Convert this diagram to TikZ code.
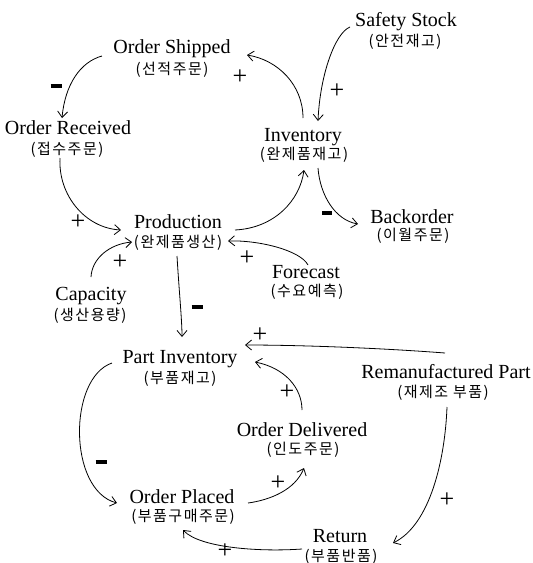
\documentclass[tikz,border=0pt]{standalone}
\usepackage{fontspec}
\setmainfont{Liberation Serif}
\newfontfamily\kr[LetterSpace=10]{Noto Sans CJK KR}
\usetikzlibrary{arrows.meta}
\begin{document}
\begin{tikzpicture}[x=1pt,y=-1pt,
  en/.style={anchor=base,inner sep=0pt,font=\fontsize{20}{22}\selectfont},
  ko/.style={anchor=base,inner sep=0pt,font=\kr\fontsize{15}{17}\selectfont},
  link/.style={line width=0.8pt,-{Straight Barb[length=6pt,width=10pt]}},
  plussign/.style={inner sep=0pt,font=\fontsize{26}{28}\selectfont},
  minussign/.style={inner sep=0pt}]
\useasboundingbox (0,0) rectangle (533,563);
% English + Korean labels
\node[en] (os) at (172,53) {Order Shipped};
\node[ko] (osk) at (172,74) {(선적주문)};
\node[en] (or) at (68,134) {Order Received};
\node[ko] (ork) at (67,154) {(접수주문)};
\node[en] (ss) at (406,26) {Safety Stock};
\node[ko] (ssk) at (405,46) {(안전재고)};
\node[en] (inv) at (303,141) {Inventory};
\node[ko] (invk) at (304,159) {(완제품재고)};
\node[en] (bo) at (412,223) {Backorder};
\node[ko] (bok) at (413,240) {(이월주문)};
\node[en] (prod) at (178,228) {Production};
\node[ko] (prodk) at (178,247) {(완제품생산)};
\node[en] (cap) at (91,300) {Capacity};
\node[ko] (capk) at (90,320) {(생산용량)};
\node[en] (fc) at (306,278) {Forecast};
\node[ko] (fck) at (307,296) {(수요예측)};
\node[en] (pi) at (180,363) {Part Inventory};
\node[ko] (pik) at (180,383) {(부품재고)};
\node[en] (rp) at (446,378) {Remanufactured Part};
\node[ko] (rpk) at (443,397) {(재제조 부품)};
\node[en] (od) at (302,436) {Order Delivered};
\node[ko] (odk) at (303,454) {(인도주문)};
\node[en] (op) at (182,503) {Order Placed};
\node[ko] (opk) at (183,521) {(부품구매주문)};
\node[en] (ret) at (340,542) {Return};
\node[ko] (retk) at (341,561) {(부품반품)};
% connectors
\draw[link] ([shift={(-70,3)}]os.base) .. controls (80,62) and (65,85) .. ([shift={(-6,-16)}]or.base);
\draw[link] ([shift={(0,-23)}]inv.base) .. controls (303,85) and (278,60) .. ([shift={(75,2)}]os.base);
\draw[link] ([shift={(-56,1)}]ss.base) .. controls (335,33) and (320,75) .. ([shift={(15,-20)}]inv.base);
\draw[link] ([shift={(14,9)}]invk.base) .. controls (320,195) and (335,220) .. ([shift={(-54,1)}]bo.base);
\draw[link] ([shift={(-7,4)}]ork.base) .. controls (58,195) and (85,228) .. ([shift={(-57,2)}]prod.base);
\draw[link] ([shift={(57,2)}]prod.base) .. controls (275,228) and (300,200) .. ([shift={(0,11)}]invk.base);
\draw[link] ([shift={(0,-23)}]cap.base) .. controls (92,258) and (110,244) .. ([shift={(-46,-5)}]prodk.base);
\draw[link] ([shift={(2,-13)}]fc.base) .. controls (300,250) and (258,240) .. ([shift={(50,-6)}]prodk.base);
\draw[link] ([shift={(-1,9)}]prodk.base) .. controls (179,290) and (182,320) .. ([shift={(2,-26)}]pi.base);
\draw[link] ([shift={(-1,-25)}]rp.base) .. controls (380,348) and (300,345) .. ([shift={(65,-18)}]pi.base);
\draw[link] ([shift={(0,-26)}]od.base) .. controls (302,388) and (285,368) .. ([shift={(75,-1)}]pi.base);
\draw[link] ([shift={(-68,0)}]pi.base) .. controls (68,378) and (68,490) .. ([shift={(-65,0)}]op.base);
\draw[link] ([shift={(66,0)}]op.base) .. controls (270,500) and (295,490) .. ([shift={(1,14)}]odk.base);
\draw[link] ([shift={(4,10)}]rpk.base) .. controls (445,460) and (430,525) .. ([shift={(53,1)}]ret.base);
\draw[link] ([shift={(-39,-12)}]retk.base) .. controls (260,552) and (200,548) .. ([shift={(0,9)}]opk.base);
% polarity signs
\node[minussign] (m1) at (56,86) {\rule{11pt}{3.5pt}};
\node[minussign] (m2) at (327,213) {\rule{10pt}{3.5pt}};
\node[minussign] (m3) at (197,307) {\rule{11pt}{3.5pt}};
\node[minussign] (m4) at (101,462) {\rule{11pt}{3.5pt}};
\node[plussign] (p1) at (240,77) {+};
\node[plussign] (p2) at (337,91) {+};
\node[plussign] (p3) at (78,222) {+};
\node[plussign] (p4) at (120,262) {+};
\node[plussign] (p5) at (247,258) {+};
\node[plussign] (p6) at (260,335) {+};
\node[plussign] (p7) at (287,392) {+};
\node[plussign] (p8) at (278,483) {+};
\node[plussign] (p9) at (447,500) {+};
\node[plussign] (p10) at (225,551) {+};
\end{tikzpicture}
\end{document}
